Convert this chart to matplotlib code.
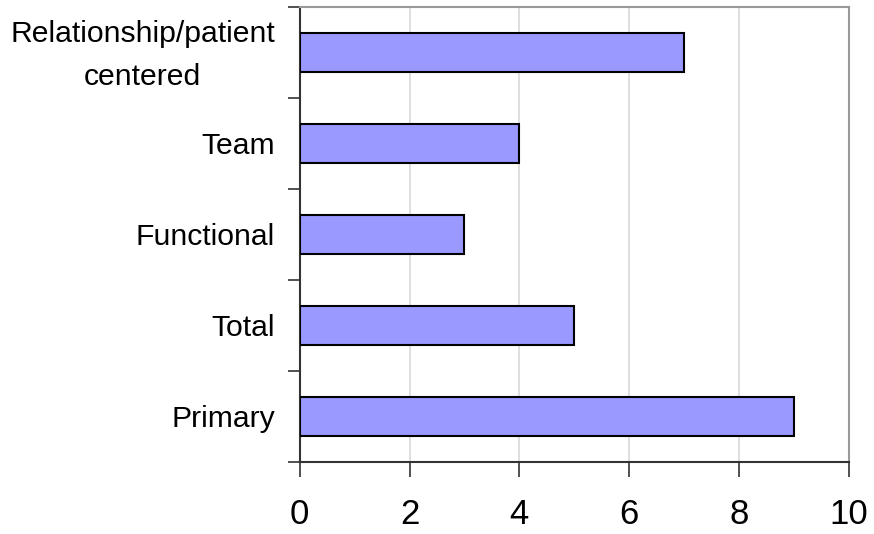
import matplotlib
matplotlib.use("Agg")
import matplotlib.pyplot as plt
import matplotlib.transforms as mtransforms
import numpy as np

plt.rcParams['font.family'] = ['Liberation Sans', 'DejaVu Sans']

categories = ["Primary", "Total", "Functional", "Team", "Relationship/patient\ncentered"]
values = [9, 5, 3, 4, 7]
x_ticks = [0, 2, 4, 6, 8, 10]

fig = plt.figure(figsize=(8.74, 5.34), dpi=100)
ax = fig.add_axes([0.343, 0.135, 0.628, 0.852])

pos = np.arange(len(categories))
ax.barh(pos, values, height=0.42, color="#9999FF", edgecolor="black",
        linewidth=1.5, zorder=3)

ax.set_xlim(0, 10)
ax.set_ylim(-0.5, len(categories) - 0.5)
ax.set_xticks(x_ticks)
ax.set_xticklabels([str(t) for t in x_ticks], fontsize=25)
ax.tick_params(axis='x', direction='out', length=11, width=1.2,
               color="#333333", pad=15)

# category labels at bar centres, tick marks at category boundaries
ax.set_yticks(pos)
ax.set_yticklabels(categories, fontsize=21.7, multialignment='center',
                   linespacing=1.65)
ax.tick_params(axis='y', which='major', length=0, pad=18)
ax.set_yticks(np.arange(-0.5, len(categories), 1.0), minor=True)
ax.tick_params(axis='y', which='minor', direction='out', length=9,
               width=1.2, color="#333333")

# nudge the two-line label upward a little
lbl = ax.get_yticklabels()[-1]
lbl.set_transform(lbl.get_transform() +
                  mtransforms.ScaledTranslation(0, 0.07, fig.dpi_scale_trans))

ax.grid(axis='x', color="#d9d9d9", linewidth=1.2, zorder=0)
ax.set_axisbelow(True)

for side in ("left", "bottom"):
    ax.spines[side].set_color("#333333")
    ax.spines[side].set_linewidth(1.5)
for side in ("top", "right"):
    ax.spines[side].set_color("#999999")
    ax.spines[side].set_linewidth(1.5)

fig.savefig("out.png", dpi=100)
